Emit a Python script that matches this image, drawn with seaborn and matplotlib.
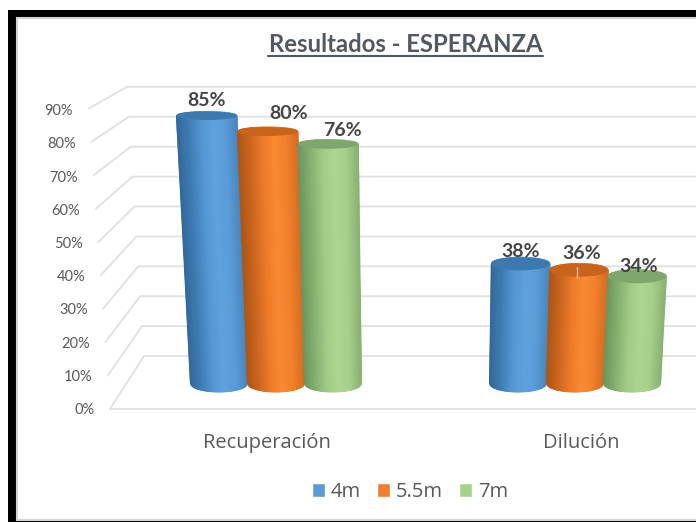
import numpy as np
import pandas as pd
import matplotlib
matplotlib.use('Agg')
import matplotlib.pyplot as plt
from matplotlib.colors import LinearSegmentedColormap
from matplotlib.patches import Ellipse, Rectangle
import seaborn as sns

# values
categories = ['Recuperación', 'Dilución']
depths = ['4m', '5.5m', '7m']
values_4m = [85, 38]
values_55m = [80, 36]
values_7m = [76, 34]
y_ticks = [0, 10, 20, 30, 40, 50, 60, 70, 80, 90]

legend_colors = ['#5b9bd5', '#ed7d31', '#a5d28a']
body_colors = [
    ['#32699c', '#3f7db5', '#5597d2', '#5fa2de', '#5a9cd8', '#4a86bd'],
    ['#ad5615', '#cc661f', '#ec7a2a', '#fb8a32', '#f2802c', '#d56e22'],
    ['#6b965f', '#86b070', '#a2cb87', '#add690', '#a6cf8a', '#8ab274'],
]
top_colors = ['#3d78ae', '#c9641d', '#7fa66c']
# label position relative to the top of each bar, in pixels
label_nudge = [[(0, 15), (0, 12)], [(21, 18), (3, 17)], [(14, 14), (1, 10)]]

W, H = 696, 522
X0, X_STEP = 276, 299      # pixel of first group, pixels between groups
Y0, Y_STEP = 383.5, 3.15   # pixel of 0%, pixels per percent
FLOOR = 409
VANISH = 0.482             # bars lean away from this x
LEAN = 0.00072

df = pd.DataFrame({
    'posicion': list(range(len(categories))) * 3,
    'profundidad': np.repeat(depths, 2),
    'valor': values_4m + values_55m + values_7m,
})

sns.set_theme(style='white')
plt.rcParams['font.family'] = ['Open Sans', 'DejaVu Sans']

fig = plt.figure(figsize=(W / 100, H / 100), dpi=100)

# background: frame and the fake 3D walls, in pixel coordinates
bg = fig.add_axes([0, 0, 1, 1], zorder=0)
bg.set_xlim(0, W)
bg.set_ylim(H, 0)
bg.axis('off')
bg.add_patch(Rectangle((8, 10), W, H, color='black', lw=0))
bg.add_patch(Rectangle((17, 18), W, 502, facecolor='white', edgecolor='#d4d4d4', lw=1.5))

grid = '#e0e0e0'
for t in y_ticks:
    fx, fy = 110 - 0.233 * t, 409 - 3.34 * t
    bx, by = 144 - 0.19 * t, 356 - 2.99 * t
    bg.plot([fx, bx, W], [fy, by, by], color=grid, lw=1.3, solid_joinstyle='miter')
    bg.text(95 - 0.244 * t, 410 - 3.32 * t, f'{t}%', ha='right', va='center',
            fontsize=10.5, color='#595959', family='Lato')
bg.plot([110, W], [409, 409], color=grid, lw=1.3)

bg.text(405.5, 44, 'Resultados - ESPERANZA', ha='center', va='center',
        fontsize=17.2, fontweight='bold', color='#505a64', family='Lato')
bg.plot([268, 543], [56, 56], color='#505a64', lw=1.5)

# bars
ax = fig.add_axes([0, (H - FLOOR) / H, 1, FLOOR / H], zorder=1)
ax.patch.set_visible(False)
sns.barplot(data=df, x='posicion', y='valor', hue='profundidad', hue_order=depths,
            native_scale=True, palette=legend_colors, width=0.572, saturation=1,
            errorbar=None, ax=ax)

handles, labels = ax.get_legend_handles_labels()
ax.legend(handles, labels, loc='center', bbox_to_anchor=(410 / W, 1 - 492 / H),
          bbox_transform=fig.transFigure, ncol=3, frameon=False, fontsize=14.5,
          handlelength=0.65, handleheight=0.65, handletextpad=0.3, columnspacing=0.8,
          labelcolor='#595959')

for c, container in enumerate(ax.containers):
    cmap = LinearSegmentedColormap.from_list(f'cil{c}', body_colors[c])
    for g, bar in enumerate(container):
        v = bar.get_height()
        xc = bar.get_x() + bar.get_width() / 2
        r = bar.get_width() / 2
        scale = 1 + LEAN * v
        xc_top = VANISH + (xc - VANISH) * scale
        r_top = r * scale
        ry_top = (8.5 - 0.05 * v) / Y_STEP
        ry_base = 8.5 / Y_STEP

        t = np.linspace(-1, 1, 60)
        arc = np.sqrt(1 - t ** 2)
        xs = np.vstack([xc + r * t, xc_top + r_top * t])
        ys = np.vstack([-ry_base * arc, v + ry_top * arc])
        shade = np.vstack([t, t])
        ax.pcolormesh(xs, ys, shade, cmap=cmap, shading='gouraud', zorder=2 + c)
        ax.add_patch(Ellipse((xc_top, v), 2 * r_top, 2 * ry_top, facecolor=top_colors[c],
                             edgecolor='none', zorder=2 + c))
        bar.set_alpha(0)

        ax.annotate(f'{v:.0f}%', (xc_top, v), xytext=label_nudge[c][g],
                    textcoords='offset pixels', ha='center', va='center', fontsize=14,
                    fontweight='bold', color='#454545', family='Lato', zorder=10)

# little leader line left on the orange cylinder of the second group
leader = ax.containers[1][1]
leader_x = leader.get_x() + leader.get_width() / 2 + 0.006
ax.plot([leader_x, leader_x], [leader.get_height() + 1, leader.get_height() - 2.5],
        color='#d8b49a', lw=1, zorder=9)

ax.set_xlim(-X0 / X_STEP, (W - X0) / X_STEP)
ax.set_ylim((Y0 - FLOOR) / Y_STEP, Y0 / Y_STEP)
ax.set_xlabel('')
ax.set_ylabel('')
ax.set_yticks([])
ax.set_xticks([-0.03, 1.02])
ax.set_xticklabels(categories, fontsize=14.5, color='#595959')
ax.tick_params(axis='x', length=0, pad=17)
sns.despine(ax=ax, left=True, bottom=True, top=True, right=True)

fig.savefig('out.png', dpi=100)
